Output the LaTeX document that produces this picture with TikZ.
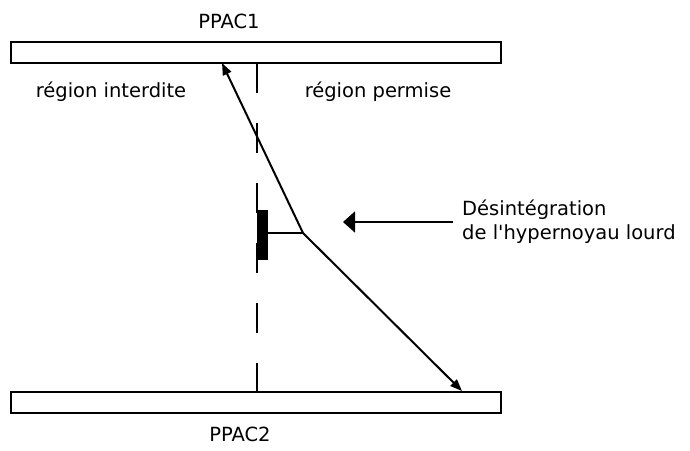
\documentclass[tikz,border=0pt]{standalone}
\usepackage{fontspec}
\setmainfont{DejaVu Sans}[Ligatures=TeXOff]
\usetikzlibrary{arrows.meta}
\begin{document}
\begin{tikzpicture}[x=1pt,y=-1pt,
  bar/.style={draw,line width=2pt,minimum width=490pt,minimum height=21pt,inner sep=0pt},
  lbl/.style={font=\fontsize{19.5}{24}\selectfont,inner sep=0pt},
  track/.style={line width=2pt},
  smalltip/.style={-{Triangle[length=12pt,width=9pt]}},
  bigtip/.style={-{Triangle[length=12pt,width=21pt]}}]
\useasboundingbox (0,0) rectangle (690,450);
\node[bar] (top) at (256,52.5) {};
\node[bar] (bot) at (256,402) {};
\draw[line width=1.5pt,dash pattern=on 30pt off 30pt] (257,63) coordinate (dtop) -- (257,391) coordinate (dbot);
\node[fill=black,minimum width=11pt,minimum height=50pt,inner sep=0pt] (frag) at (262.5,235) {};
\coordinate (V) at (303,233);
\coordinate (tipA) at (222,63);
\coordinate (tipB) at (462,391);
\draw[track] (frag.east |- V) -- (V);
\draw[track,smalltip] (V) -- (tipA);
\draw[track,smalltip] (V) -- (tipB);
\coordinate (arrS) at (453,222);
\coordinate (arrE) at (343,222);
\draw[line width=1.6pt,bigtip] (arrS) -- (arrE);
\node[lbl] (p1) at (229,21) {PPAC1};
\node[lbl] (p2) at (240,434) {PPAC2};
\node[lbl] (ri) at (111,92) {région interdite};
\node[lbl] (rp) at (378,92) {région permise};
\node[lbl,anchor=west,align=left] (des) at (462,222) {Désintégration\\de l'hypernoyau lourd};
\end{tikzpicture}
\end{document}
